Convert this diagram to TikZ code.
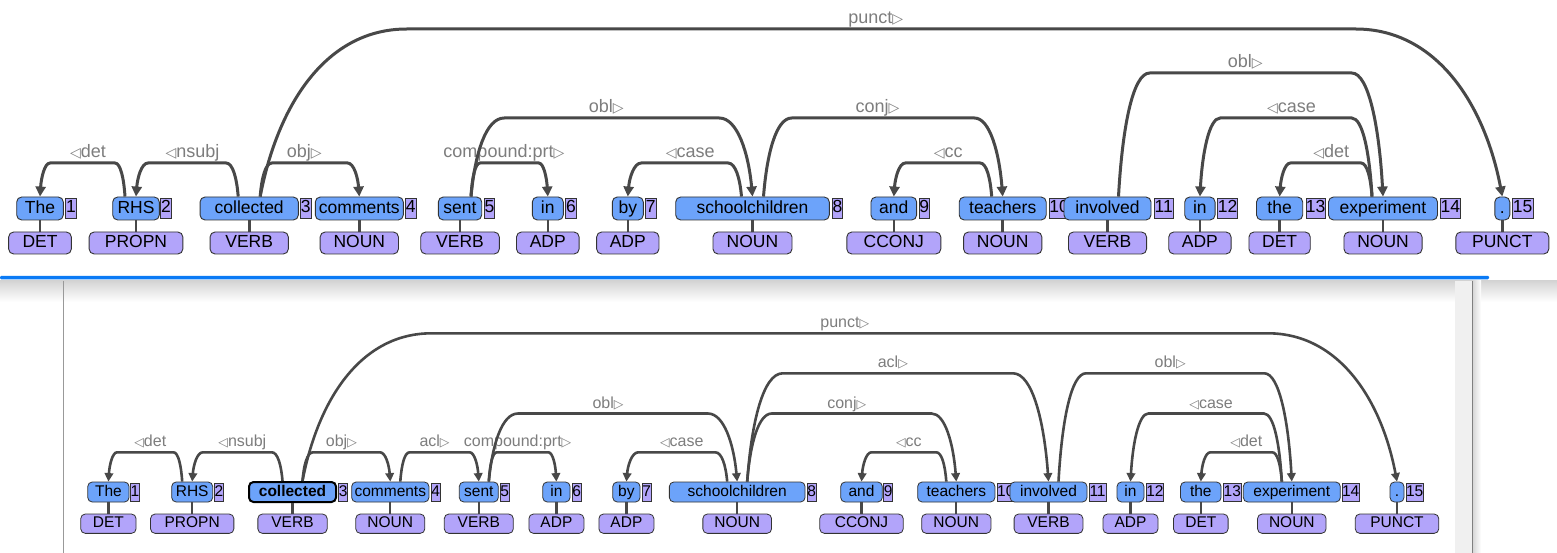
\documentclass[tikz,border=0pt]{standalone}
\usepackage{fontspec}
\setmainfont{Liberation Sans}
\newfontfamily\trifont{DejaVu Sans}
\usetikzlibrary{calc,arrows.meta}

\definecolor{wordblue}{RGB}{108,163,250}
\definecolor{poslav}{RGB}{178,164,250}
\definecolor{edgegray}{RGB}{72,72,72}
\definecolor{labgray}{RGB}{125,125,125}
\definecolor{tabblue}{RGB}{10,122,245}

% direction marks of the relation labels
\def\trisize{14}
\newcommand\lefttri{{\trifont\fontsize{\trisize}{\trisize}\selectfont ◁}}
\newcommand\righttri{{\trifont\fontsize{\trisize}{\trisize}\selectfont ▷}}

% offsets used by the arcs (set per tree)
\def\headoff{11pt}
\def\labup{5.5pt}

% dependency arc: #1 head, #2 dependent, #3 level coordinate, #4 direction (+1/-1), #5 label
\newcommand\deparc[5]{%
  \draw[arc] let \p1=(#1.north), \p2=(#2.north), \p3=(#3),
      \n1={\x1+(#4)*\headoff},
      \n2={0.118*abs(\x2-\n1)},
      \n3={\y3-\y1} in
    (\n1,\y1)
      .. controls ({\n1+(#4)*0.12*\n2},{\y3-0.45*\n3}) and ({\n1+(#4)*0.45*\n2},\y3) .. ({\n1+(#4)*\n2},\y3)
      -- ({\x2-(#4)*\n2},\y3)
      .. controls ({\x2-(#4)*0.45*\n2},\y3) and ({\x2-(#4)*0.12*\n2},{\y3-0.45*\n3}) .. (\x2,\y2)
    node[lbl] at ({(\x1+\x2)/2},{\y3+\labup}) {#5};
}

\begin{document}
\begin{tikzpicture}[x=1pt,y=-1pt]
\useasboundingbox (0,0) rectangle (1557,553);
\fill[white] (0,0) rectangle (1557,553);

% window chrome between the two views
\fill[tabblue, rounded corners=1.2pt] (0,275.8) rectangle (1489,279.3);
\draw[black!50, line width=0.8pt] (0,280.2) -- (1557,280.2);
\shade[top color=black!17, bottom color=white] (0,280.6) rectangle (1557,302);
\fill[black!6] (1455,280.6) rectangle (1472,553);
\shade[left color=black!16, right color=white] (1472.5,280.6) rectangle (1481,553);
\draw[black!50, line width=1pt] (1472.5,280.6) -- (1472.5,553);
\draw[black!40, line width=1.2pt] (63.5,280.6) -- (63.5,553);

% ---------------- upper tree ----------------
\begin{scope}[
  txt/.style={font=\fontsize{17.5}{17.5}\selectfont, text height=12.6pt, text depth=3.4pt},
  wbox/.style={txt, draw=black!80, line width=0.9pt, fill=wordblue, rounded corners=5pt, inner sep=0pt,
               minimum height=23pt},
  ibox/.style={txt, draw=black!80, line width=0.9pt, fill=poslav, inner sep=0pt, anchor=west,
               minimum height=20pt},
  pbox/.style={txt, draw=black!80, line width=0.9pt, fill=poslav, rounded corners=5pt, inner sep=0pt,
               minimum height=22pt},
  stem/.style={draw=edgegray, line width=2.6pt},
  arc/.style={draw=edgegray, line width=3pt, -{Triangle[length=10pt,width=10pt]}},
  lbl/.style={text=labgray, inner sep=0pt, anchor=base, font=\fontsize{18}{18}\selectfont}]
\def\headoff{11pt}\def\labup{5.5pt}\def\trisize{14}
\coordinate (TL1) at (0,163);
\coordinate (TL2) at (0,118);
\coordinate (TL3) at (0,73);
\coordinate (TL4) at (0,29);
\foreach \i/\cx/\w/\txt/\ix/\iw/\pos/\pw in {
  1/40/46.6/The/65.3/10.3/DET/62.7,
  2/136/46.6/RHS/160.3/10.3/PROPN/93.7,
  3/249.2/98.3/collected/300/10.6/VERB/78.3,
  4/359.3/88/comments/405/10.8/NOUN/78.3,
  5/460/43.4/sent/484/10.3/VERB/78.6,
  6/547.8/31/in/565.3/10.6/ADP/62.6,
  7/627.8/31/by/645/10.6/ADP/62.3,
  8/752.5/153.6/schoolchildren/831.7/10.6/NOUN/79,
  9/893.8/45.7/and/918.7/10.3/CCONJ/94,
  10/1002.7/87/teachers/1048.7/20/NOUN/78.3,
  11/1107.5/87/involved/1153.5/19.5/VERB/78.1,
  12/1199.9/30.3/in/1217.4/19.6/ADP/62.3,
  13/1279.6/46.2/the/1305.5/19.5/DET/61.3,
  14/1383/109/experiment/1439.8/20.2/NOUN/78.1,
  15/1502.3/15/./1511.5/21.3/PUNCT/93}{
  \node[wbox, minimum width=\w] (t\i) at (\cx,208.5) {\txt};
  \node[ibox, minimum width=\iw] (ti\i) at (\ix,208) {\i};
  \node[pbox, minimum width=\pw] (tp\i) at (\cx,243) {\pos};
  \draw[stem] (t\i) -- (tp\i);
}
\deparc{t2}{t1}{TL1}{-1}{\lefttri det}
\deparc{t3}{t2}{TL1}{-1}{\lefttri nsubj}
\deparc{t3}{t4}{TL1}{1}{obj\righttri}
\deparc{t3}{t15}{TL4}{1}{punct\righttri}
\deparc{t5}{t6}{TL1}{1}{compound:prt\righttri}
\deparc{t5}{t8}{TL2}{1}{obl\righttri}
\deparc{t8}{t7}{TL1}{-1}{\lefttri case}
\deparc{t8}{t10}{TL2}{1}{conj\righttri}
\deparc{t10}{t9}{TL1}{-1}{\lefttri cc}
\deparc{t11}{t14}{TL3}{1}{obl\righttri}
\deparc{t14}{t12}{TL2}{-1}{\lefttri case}
\deparc{t14}{t13}{TL1}{-1}{\lefttri det}
\end{scope}

% ---------------- lower tree ----------------
\begin{scope}[
  txt/.style={font=\fontsize{15.5}{15.5}\selectfont, text height=11.2pt, text depth=3pt},
  wbox/.style={txt, draw=black!80, line width=0.8pt, fill=wordblue, rounded corners=4.5pt, inner sep=0pt,
               minimum height=20pt},
  wsel/.style={wbox, draw=black, line width=2pt, font=\fontsize{15.5}{15.5}\selectfont\bfseries},
  ibox/.style={txt, draw=black!80, line width=0.8pt, fill=poslav, inner sep=0pt, anchor=west,
               minimum height=18pt},
  pbox/.style={txt, draw=black!80, line width=0.8pt, fill=poslav, rounded corners=4.5pt, inner sep=0pt,
               minimum height=19.3pt},
  stem/.style={draw=edgegray, line width=2.3pt},
  arc/.style={draw=edgegray, line width=2.6pt, -{Triangle[length=8.5pt,width=8.5pt]}},
  lbl/.style={text=labgray, inner sep=0pt, anchor=base, font=\fontsize{16}{16}\selectfont}]
\def\headoff{10pt}\def\labup{5.5pt}\def\trisize{12.5}
\coordinate (BL1) at (0,452.3);
\coordinate (BL2) at (0,413.5);
\coordinate (BL3) at (0,373.3);
\coordinate (BL4) at (0,333.3);
\foreach \i/\cx/\w/\txt/\ix/\iw/\pos/\pw in {
  1/108.4/41.3/The/130.3/8.7/DET/55.3,
  2/192.2/41/RHS/214/9.3/PROPN/83.3,
  3/292.5/87/collected/338.3/9/VERB/69.3,
  4/390.3/77.3/comments/430.7/9.3/NOUN/69,
  5/478.8/39/sent/500/8.3/VERB/69,
  6/556.4/27.3/in/571.7/9/ADP/55,
  7/626.4/27.3/by/641.7/9.3/ADP/55,
  8/737.2/135.7/schoolchildren/806.7/9.3/NOUN/68.7,
  9/861.5/41.6/and/883.3/9/CCONJ/83.4,
  10/956.3/77.3/teachers/996.7/17.5/NOUN/69.3,
  11/1048.5/77/involved/1088.8/16.7/VERB/68.8,
  12/1130.5/27/in/1145.6/17.8/ADP/55,
  13/1200.8/40.5/the/1223/17.8/DET/54.6,
  14/1291.8/97/experiment/1341.7/17.1/NOUN/68.5,
  15/1397/14/./1405.7/17/PUNCT/83.5}{
  \ifnum\i=3
    \node[wsel, minimum width=\w] (b\i) at (\cx,492) {\txt};
  \else
    \node[wbox, minimum width=\w] (b\i) at (\cx,492) {\txt};
  \fi
  \node[ibox, minimum width=\iw] (bi\i) at (\ix,492) {\i};
  \node[pbox, minimum width=\pw] (bp\i) at (\cx,523.7) {\pos};
  \draw[stem] (b\i) -- (bp\i);
}
\deparc{b2}{b1}{BL1}{-1}{\lefttri det}
\deparc{b3}{b2}{BL1}{-1}{\lefttri nsubj}
\deparc{b3}{b4}{BL1}{1}{obj\righttri}
\deparc{b3}{b15}{BL4}{1}{punct\righttri}
\deparc{b4}{b5}{BL1}{1}{acl\righttri}
\deparc{b5}{b6}{BL1}{1}{compound:prt\righttri}
\deparc{b5}{b8}{BL2}{1}{obl\righttri}
\deparc{b8}{b7}{BL1}{-1}{\lefttri case}
\deparc{b8}{b10}{BL2}{1}{conj\righttri}
\deparc{b8}{b11}{BL3}{1}{acl\righttri}
\deparc{b10}{b9}{BL1}{-1}{\lefttri cc}
\deparc{b11}{b14}{BL3}{1}{obl\righttri}
\deparc{b14}{b12}{BL2}{-1}{\lefttri case}
\deparc{b14}{b13}{BL1}{-1}{\lefttri det}
\end{scope}
\end{tikzpicture}
\end{document}
